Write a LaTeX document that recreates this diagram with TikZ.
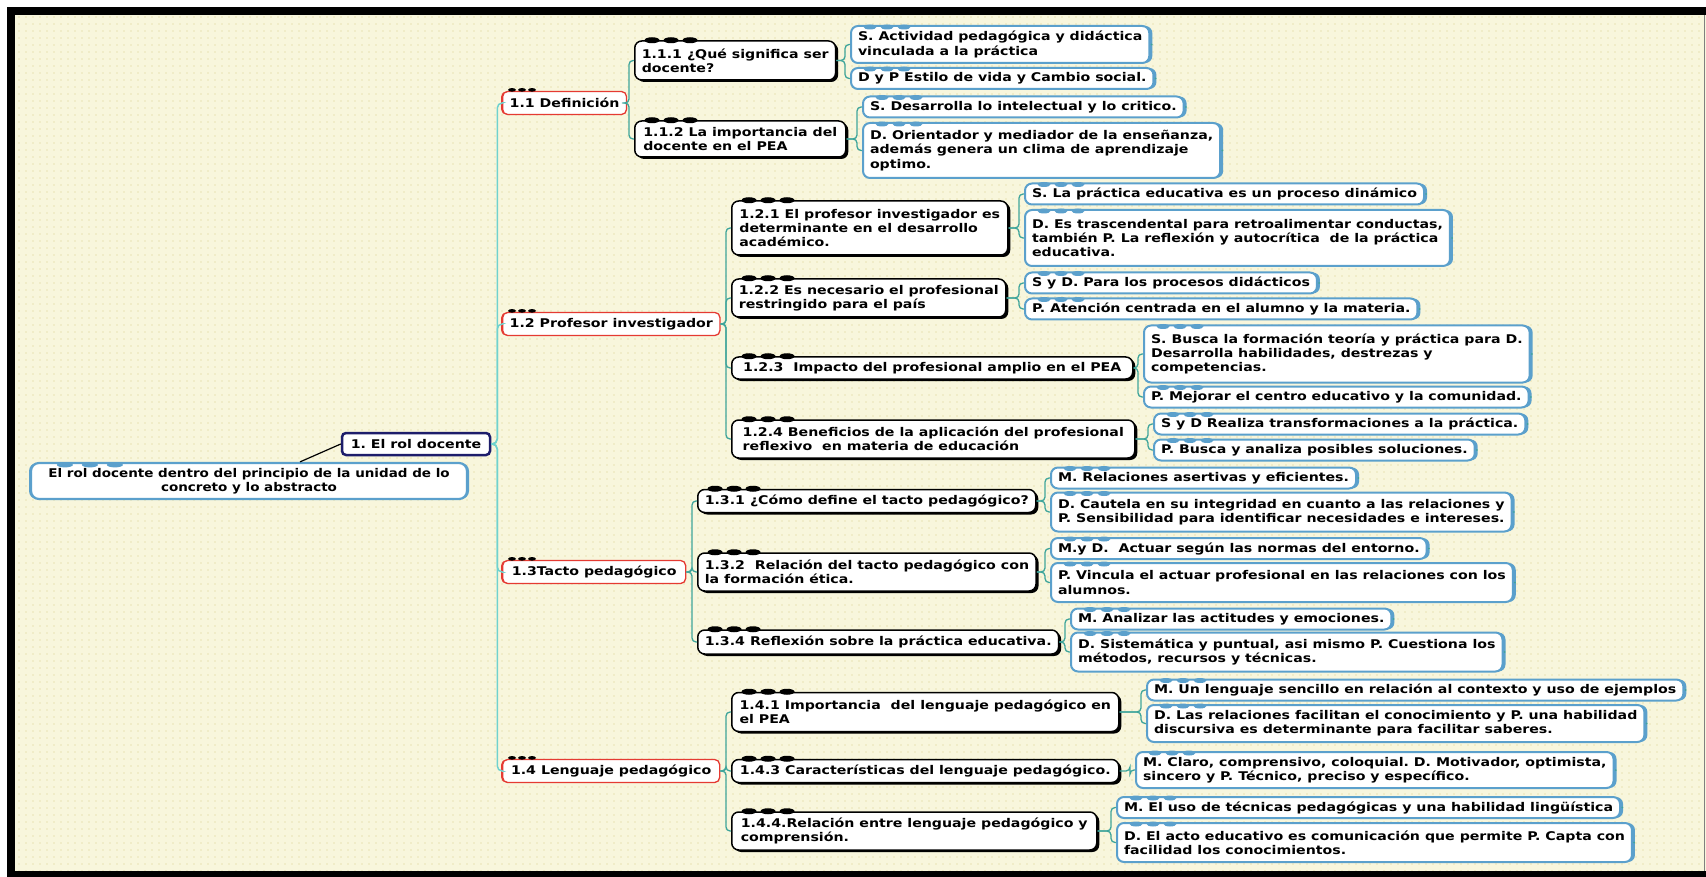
\documentclass[tikz,border=0pt]{standalone}
\usepackage{fontspec}
\setmainfont{DejaVu Sans}[FakeStretch=1.18]
\newfontfamily\rootfont{DejaVu Sans}[FakeStretch=1.125]
\usetikzlibrary{shadows,patterns.meta}

\definecolor{cream}{HTML}{F8F6DC}
\definecolor{creamdot}{HTML}{E8E3B4}
\definecolor{leafblue}{HTML}{5BA0CC}
\definecolor{linkteal}{HTML}{3FA59B}
\definecolor{trunkcyan}{HTML}{70D2CE}
\definecolor{topicred}{HTML}{E53A32}
\definecolor{rolnavy}{HTML}{1D1D6B}

\newcommand\mapfont{\fontsize{12}{14.3}\selectfont\bfseries\frenchspacing}

\tikzset{
  box/.style={fill=white, align=left, inner xsep=7pt, inner ysep=4pt, font=\mapfont},
  rootbox/.style={box, align=center, draw=leafblue, line width=2.2pt, rounded corners=8pt,
    minimum width=436pt, minimum height=36pt, font=\mapfont\rootfont,
    general shadow={fill=leafblue, shadow xshift=2pt}, general shadow={fill=leafblue, shadow xshift=-2pt}},
  rolbox/.style={box, draw=rolnavy, line width=2.5pt, rounded corners=4pt, minimum width=148pt, minimum height=22pt},
  topicbox/.style={box, anchor=west, draw=topicred, line width=1.3pt, rounded corners=5pt, minimum height=23pt,
    general shadow={fill=topicred, shadow xshift=-1.5pt}},
  subbox/.style={box, anchor=west, draw=black, line width=1.5pt, rounded corners=7pt,
    general shadow={fill=black, shadow xshift=2.5pt, shadow yshift=-2pt}},
  leafbox/.style={box, anchor=west, draw=leafblue, line width=2pt, rounded corners=7pt, minimum height=21pt,
    general shadow={fill=leafblue, shadow xshift=3pt}, label distance=7pt, label={[leafdot]right:{}}},
  leafdot/.style={circle, fill=linkteal, inner sep=0pt, minimum size=2pt},
  link/.style={draw=linkteal, line width=1.3pt, rounded corners=4pt},
  trunk/.style={draw=trunkcyan, line width=1.5pt, rounded corners=5pt},
}

\begin{document}
\begin{tikzpicture}[x=1pt, y=-1pt]
\useasboundingbox (0,0) rectangle (1706,877);
% frame and paper
\fill[white] (0,0) rectangle (1706,877);
\fill[cream] (15,15) rectangle (1706,871);
\fill[pattern={Dots[distance=6.5pt,radius=0.9pt]}, pattern color=creamdot] (15,15) rectangle (1703,871);
\fill[black] (7,7) rectangle (1706,15);
\fill[black] (7,7) rectangle (15,877);
\fill[black] (7,871) rectangle (1706,877);
\draw[gray, line width=0.8pt] (1704.5,15) -- (1704.5,871);

% main idea
\node[rootbox] (root) at (249,481) {El rol docente dentro del principio de la unidad de lo\\concreto y lo abstracto};
\node[rolbox] (rol) at (416,444) {1. El rol docente};

% first level
\node[topicbox, minimum width=120pt] (def) at (502,103) {1.1 Definición};
\node[topicbox, minimum width=216pt] (prof) at (502,324) {1.2 Profesor investigador};
\node[topicbox, minimum width=183pt] (tacto) at (502,572) {1.3Tacto pedagógico};
\node[topicbox, minimum width=217pt] (leng) at (502,771) {1.4 Lenguaje pedagógico};

% second level
\node[subbox, minimum width=200pt, minimum height=39pt] (q111) at (634,60.5) {1.1.1 ¿Qué significa ser\\docente?};
\node[subbox, minimum width=211pt, minimum height=36pt] (q112) at (634,139) {1.1.2 La importancia del\\docente en el PEA};
\node[subbox, minimum width=276pt, minimum height=54pt] (q121) at (731,228) {1.2.1 El profesor investigador es\\determinante en el desarrollo\\académico.};
\node[subbox, minimum width=274pt, minimum height=38pt] (q122) at (731,298) {1.2.2 Es necesario el profesional\\restringido para el país};
\node[subbox, minimum width=401pt, minimum height=22pt] (q123) at (731,368) {1.2.3~ Impacto del profesional amplio en el PEA};
\node[subbox, minimum width=403pt, minimum height=38pt] (q124) at (731,439) {1.2.4 Beneficios de la aplicación del profesional\\reflexivo~ en materia de educación};
\node[subbox, minimum width=337pt, minimum height=23pt] (q131) at (697,501) {1.3.1 ¿Cómo define el tacto pedagógico?};
\node[subbox, minimum width=337pt, minimum height=38pt] (q132) at (697,572) {1.3.2~ Relación del tacto pedagógico con\\la formación ética.};
\node[subbox, minimum width=360pt, minimum height=24pt] (q134) at (697,642) {1.3.4 Reflexión sobre la práctica educativa.};
\node[subbox, minimum width=387pt, minimum height=39pt] (q141) at (731,712) {1.4.1 Importancia~ del lenguaje pedagógico en\\el PEA};
\node[subbox, minimum width=387pt, minimum height=23pt] (q143) at (731,771) {1.4.3 Características del lenguaje pedagógico.};
\node[subbox, minimum width=365pt, minimum height=38pt] (q144) at (731,831) {1.4.4.Relación entre lenguaje pedagógico y\\comprensión.};

% third level
\node[leafbox, minimum height=37pt] (a1) at (850,44.5) {S. Actividad pedagógica y didáctica\\vinculada a la práctica};
\node[leafbox] (a2) at (850,78.5) {D y P Estilo de vida y Cambio social.};
\node[leafbox] (a3) at (862,107) {S. Desarrolla lo intelectual y lo critico.};
\node[leafbox, minimum height=55pt] (a4) at (862,150.5) {D. Orientador y mediador de la enseñanza,\\además genera un clima de aprendizaje\\optimo.};
\node[leafbox] (b1) at (1024,194) {S. La práctica educativa es un proceso dinámico};
\node[leafbox, minimum height=56pt] (b2) at (1024,238) {D. Es trascendental para retroalimentar conductas,\\también P. La reflexión y autocrítica~ de la práctica\\educativa.};
\node[leafbox] (b3) at (1024,283) {S y D. Para los procesos didácticos};
\node[leafbox] (b4) at (1024,309) {P. Atención centrada en el alumno y la materia.};
\node[leafbox, minimum height=57pt] (b5) at (1143,354) {S. Busca la formación teoría y práctica para D.\\Desarrolla habilidades, destrezas y\\competencias.};
\node[leafbox] (b6) at (1143,397) {P. Mejorar el centro educativo y la comunidad.};
\node[leafbox] (b7) at (1153,424) {S y D Realiza transformaciones a la práctica.};
\node[leafbox] (b8) at (1153,450) {P. Busca y analiza posibles soluciones.};
\node[leafbox] (c1) at (1050,478) {M. Relaciones asertivas y eficientes.};
\node[leafbox, minimum height=39pt] (c2) at (1050,512) {D. Cautela en su integridad en cuanto a las relaciones y\\P. Sensibilidad para identificar necesidades e intereses.};
\node[leafbox] (c3) at (1050,548.5) {M.y D.~ Actuar según las normas del entorno.};
\node[leafbox, minimum height=39pt] (c4) at (1050,582.5) {P. Vincula el actuar profesional en las relaciones con los\\alumnos.};
\node[leafbox] (c5) at (1070,619) {M. Analizar las actitudes y emociones.};
\node[leafbox, minimum height=39pt] (c6) at (1070,652) {D. Sistemática y puntual, asi mismo P. Cuestiona los\\métodos, recursos y técnicas.};
\node[leafbox] (d1) at (1146,690) {M. Un lenguaje sencillo en relación al contexto y uso de ejemplos};
\node[leafbox, minimum height=37pt] (d2) at (1146,723.5) {D. Las relaciones facilitan el conocimiento y P. una habilidad\\discursiva es determinante para facilitar saberes.};
\node[leafbox, minimum height=36pt] (d3) at (1135,770) {M. Claro, comprensivo, coloquial. D. Motivador, optimista,\\sincero y P. Técnico, preciso y específico.};
\node[leafbox] (d4) at (1116,807.5) {M. El uso de técnicas pedagógicas y una habilidad lingüística};
\node[leafbox, minimum height=39pt] (d5) at (1116,842.5) {D. El acto educativo es comunicación que permite P. Capta con\\facilidad los conocimientos.};

% connectors
\draw[line width=1.2pt] ([xshift=51pt]root.north) -- (rol.west);
\foreach \t in {def,prof,tacto,leng}
  \draw[trunk] (rol.east) -- ++(6,0) |- (\t.west);
\foreach \p/\c in {def/q111,def/q112,prof/q121,prof/q122,prof/q123,prof/q124,
    tacto/q131,tacto/q132,tacto/q134,leng/q141,leng/q143,leng/q144,
    q111/a1,q111/a2,q112/a3,q112/a4,q121/b1,q121/b2,q122/b3,q122/b4,
    q123/b5,q123/b6,q124/b7,q124/b8,q131/c1,q131/c2,q132/c3,q132/c4,
    q134/c5,q134/c6,q141/d1,q141/d2,q143/d3,q144/d4,q144/d5}
  \draw[link] (\p.east) -| ([xshift=-5pt]\c.west) -- (\c.west);

% knobs on top of the boxes
\foreach \k in {0,1,2}
  \fill[leafblue] ([xshift=35pt+\k*25pt, yshift=-3pt]root.north west) ellipse [x radius=8pt, y radius=2.5pt];
\foreach \nd in {def,prof,tacto,leng}
  \foreach \k in {0,1,2}
    \fill ([xshift=10pt+\k*10pt, yshift=1pt]\nd.north west) ellipse [x radius=4pt, y radius=1.8pt];
\foreach \nd in {q111,q112,q121,q122,q123,q124,q131,q132,q134,q141,q143,q144}
  \foreach \k in {0,1,2}
    \fill ([xshift=18pt+\k*19pt]\nd.north west) ellipse [x radius=7.5pt, y radius=3pt];
\foreach \nd in {a1,a2,a3,a4,b1,b2,b3,b4,b5,b6,b7,b8,c1,c2,c3,c4,c5,c6,d1,d2,d3,d4,d5}
  \foreach \k in {0,1,2}
    \fill[leafblue] ([xshift=20pt+\k*17pt, yshift=-2pt]\nd.north west) ellipse [x radius=6.5pt, y radius=2.5pt];
\end{tikzpicture}
\end{document}
